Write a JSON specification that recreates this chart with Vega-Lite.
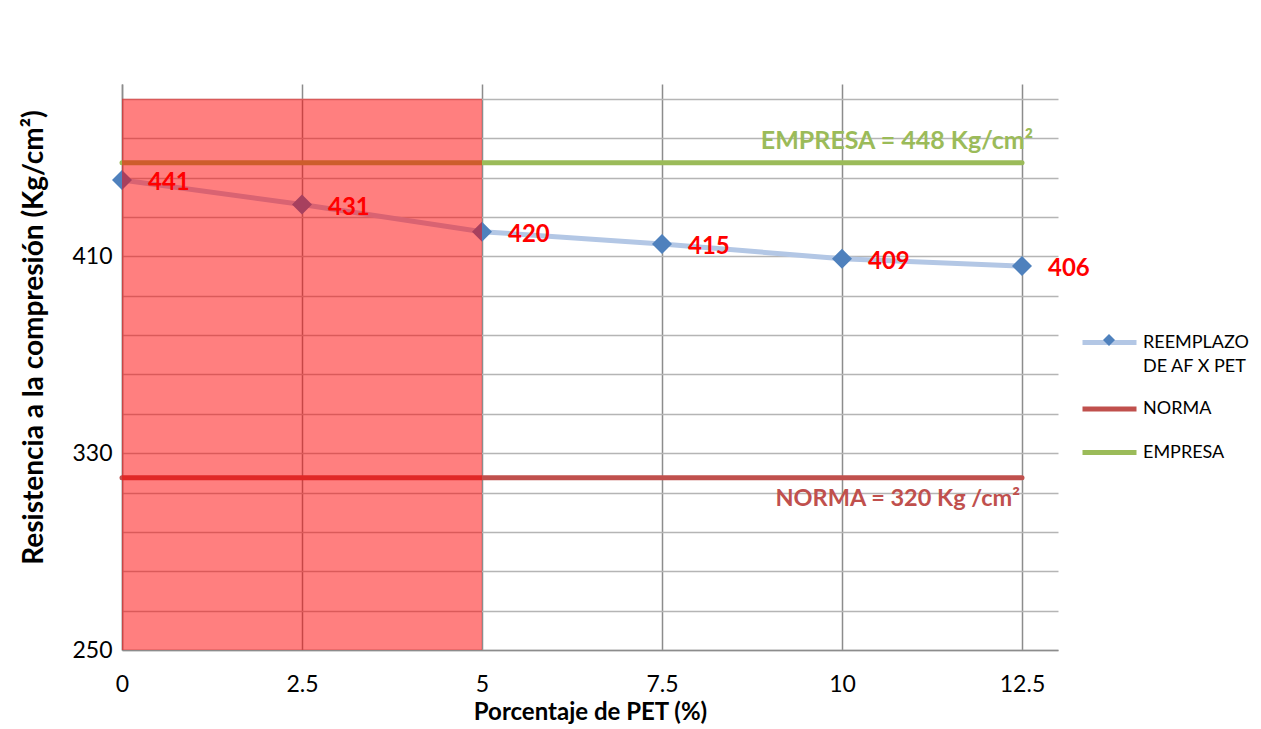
{
  "$schema": "https://vega.github.io/schema/vega-lite/v6.json",
  "width": 936,
  "height": 566,
  "autosize": "none",
  "padding": {"left": 122, "top": 84, "right": 203, "bottom": 79},
  "background": "white",
  "config": {"view": {"stroke": null}, "font": "Lato", "legend": {"padding": 0}},
  "datasets": {
    "series": [
      {"pet": 0, "res": 441, "serie": "REEMPLAZO DE AF X PET"},
      {"pet": 2.5, "res": 431, "serie": "REEMPLAZO DE AF X PET"},
      {"pet": 5, "res": 420, "serie": "REEMPLAZO DE AF X PET"},
      {"pet": 7.5, "res": 415, "serie": "REEMPLAZO DE AF X PET"},
      {"pet": 10, "res": 409, "serie": "REEMPLAZO DE AF X PET"},
      {"pet": 12.5, "res": 406, "serie": "REEMPLAZO DE AF X PET"}
    ],
    "refs": [
      {"pet": 0, "res": 320, "serie": "NORMA"},
      {"pet": 12.5, "res": 320, "serie": "NORMA"},
      {"pet": 0, "res": 448, "serie": "EMPRESA"},
      {"pet": 12.5, "res": 448, "serie": "EMPRESA"}
    ],
    "zone": [{"pet": 0, "pet_end": 5, "res": 250, "res_end": 474}],
    "notes": [
      {"pet": 12.5, "res": 448, "text": "EMPRESA = 448 Kg/cm²"},
      {"pet": 12.5, "res": 320, "text": "NORMA = 320 Kg /cm²"}
    ]
  },
  "layer": [
    {
      "data": {"name": "series"},
      "mark": {"type": "line", "strokeWidth": 5, "strokeCap": "round"},
      "encoding": {
        "x": {
          "field": "pet", "type": "quantitative",
          "scale": {"domain": [0, 13], "nice": false, "zero": false},
          "title": "Porcentaje de PET (%)",
          "axis": {
            "values": [0, 2.5, 5, 7.5, 10, 12.5],
            "labelExpr": "toString(datum.value)",
            "labelFlush": false,
            "grid": true, "gridColor": "#8c8c8c", "gridWidth": 1.5,
            "domainColor": "#8c8c8c", "domainWidth": 1.5,
            "ticks": false,
            "labelFontSize": 23, "labelColor": "#000000", "labelPadding": 23, "labelFont": "Lato",
            "titleFontSize": 24, "titleFontWeight": "bold", "titleColor": "#000000", "titlePadding": 4, "titleFont": "Lato"
          }
        },
        "y": {
          "field": "res", "type": "quantitative",
          "scale": {"domain": [250, 480], "nice": false, "zero": false},
          "title": "Resistencia a la compresión (Kg/cm²)",
          "axis": {
            "values": [250, 266, 282, 298, 314, 330, 346, 362, 378, 394, 410, 426, 442, 458, 474],
            "labelExpr": "datum.value == 250 || datum.value == 330 || datum.value == 410 ? toString(datum.value) : ''",
            "labelFlush": false,
            "grid": true, "gridColor": "#b5b5b5", "gridWidth": 1.3,
            "domainColor": "#8c8c8c", "domainWidth": 1.5,
            "ticks": false,
            "labelFontSize": 23, "labelColor": "#000000", "labelPadding": 10, "labelFont": "Lato",
            "titleFontSize": 28, "titleFontWeight": "bold", "titleColor": "#000000", "titlePadding": 23, "titleFont": "Lato",
            "titleY": 253, "titleAnchor": "middle"
          }
        },
        "stroke": {
          "field": "serie", "type": "nominal",
          "scale": {"domain": ["REEMPLAZO DE AF X PET", "NORMA", "EMPRESA"], "range": ["#b3c7e5", "#c0504d", "#9bbb59"]},
          "legend": {
            "title": null, "orient": "none", "legendX": 958, "legendY": 229,
            "symbolType": "stroke", "symbolStrokeWidth": 5, "symbolSize": 2916,
            "labelFontSize": 18, "labelColor": "#000000", "labelFont": "Lato", "labelOffset": 4, "labelLimit": 300,
            "rowPadding": 3.5,
            "labelExpr": "datum.label == 'REEMPLAZO DE AF X PET' ? ['REEMPLAZO', 'DE AF X PET'] : datum.label",
            "encode": {"labels": {"update": {"lineHeight": {"value": 24}}}}
          }
        }
      }
    },
    {
      "data": {"name": "refs"},
      "mark": {"type": "line", "strokeWidth": 5, "strokeCap": "round"},
      "encoding": {
        "x": {"field": "pet", "type": "quantitative", "title": "Porcentaje de PET (%)"},
        "y": {"field": "res", "type": "quantitative", "title": "Resistencia a la compresión (Kg/cm²)"},
        "stroke": {"field": "serie", "type": "nominal"}
      }
    },
    {
      "data": {"name": "series"},
      "mark": {"type": "point", "shape": "diamond", "filled": true, "size": 400, "opacity": 1},
      "encoding": {
        "x": {"field": "pet", "type": "quantitative", "title": "Porcentaje de PET (%)"},
        "y": {"field": "res", "type": "quantitative", "title": "Resistencia a la compresión (Kg/cm²)"},
        "fill": {
          "field": "serie", "type": "nominal",
          "scale": {"range": ["#4f81bd"]},
          "legend": {
            "title": null, "orient": "none", "legendX": 981, "legendY": 250,
            "symbolType": "diamond", "symbolSize": 144, "symbolStrokeWidth": 0, "symbolOpacity": 1,
            "labelExpr": "''"
          }
        }
      }
    },
    {
      "data": {"name": "zone"},
      "mark": {"type": "rect", "color": "#ff0000", "opacity": 0.5},
      "encoding": {
        "x": {"field": "pet", "type": "quantitative", "title": "Porcentaje de PET (%)"},
        "x2": {"field": "pet_end"},
        "y": {"field": "res", "type": "quantitative", "title": "Resistencia a la compresión (Kg/cm²)"},
        "y2": {"field": "res_end"}
      }
    },
    {
      "data": {"name": "series"},
      "mark": {"type": "text", "align": "left", "baseline": "middle", "dx": 26, "dy": 3, "fontSize": 24, "fontWeight": "bold", "color": "#ff0000", "font": "Lato"},
      "encoding": {
        "x": {"field": "pet", "type": "quantitative", "title": "Porcentaje de PET (%)"},
        "y": {"field": "res", "type": "quantitative", "title": "Resistencia a la compresión (Kg/cm²)"},
        "text": {"field": "res", "type": "quantitative"}
      }
    },
    {
      "data": {"name": "notes"},
      "transform": [{"filter": "datum.res == 448"}],
      "mark": {"type": "text", "align": "right", "baseline": "middle", "dx": 11, "dy": -22, "fontSize": 25, "fontWeight": "bold", "color": "#9bbb59", "font": "Lato"},
      "encoding": {
        "x": {"field": "pet", "type": "quantitative", "title": "Porcentaje de PET (%)"},
        "y": {"field": "res", "type": "quantitative", "title": "Resistencia a la compresión (Kg/cm²)"},
        "text": {"field": "text"}
      }
    },
    {
      "data": {"name": "notes"},
      "transform": [{"filter": "datum.res == 320"}],
      "mark": {"type": "text", "align": "right", "baseline": "middle", "dx": -2, "dy": 21, "fontSize": 23.5, "fontWeight": "bold", "color": "#c0504d", "font": "Lato"},
      "encoding": {
        "x": {"field": "pet", "type": "quantitative", "title": "Porcentaje de PET (%)"},
        "y": {"field": "res", "type": "quantitative", "title": "Resistencia a la compresión (Kg/cm²)"},
        "text": {"field": "text"}
      }
    }
  ]
}
